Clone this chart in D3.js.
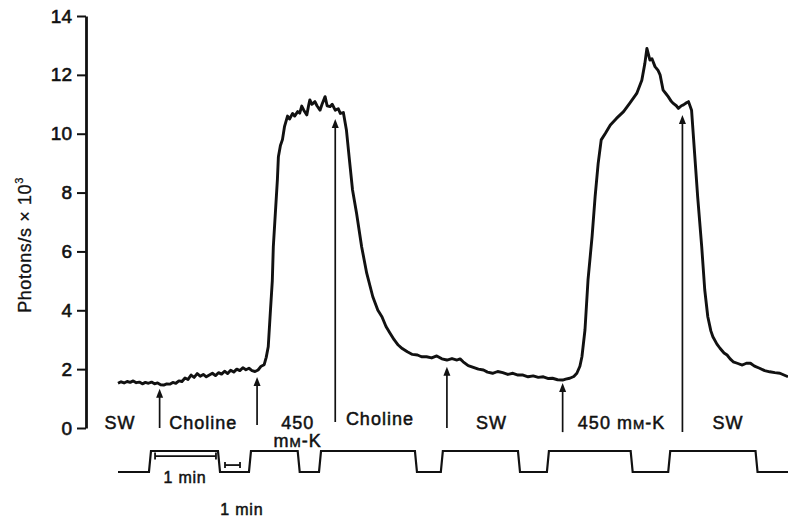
<!DOCTYPE html>
<html>
<head>
<meta charset="utf-8">
<script src="https://cdn.jsdelivr.net/npm/d3@7"></script>
<style>
  html, body { margin: 0; padding: 0; background: #fff; }
  svg { display: block; }
  text { font-family: "Liberation Sans", Arial, Helvetica, sans-serif; fill: #111; }
</style>
</head>
<body>
<svg id="chart" width="788" height="517"></svg>
<script>
// Photon emission trace (photons/s × 10³) against time (s)
const timeSec = [0,3,6,9,12,15,18,21,24,27,30,33,36,39,42,45,48,51,54,57,60,63,66,69,72,75,78,81,84,87,90,93,96,99,102,105,108,111,114,117,120,123,126,129,132,135,138,141,144,
  146,148,150,152,153,155,157,158,160,162,164,167,169,172,174,177,179,181,183,186,188,189,191,194,196,199,201,204,206,209,211,214,217,219,222,
  225,228,231,235,240,245,251,256,260,264,268,272,276,280,285,290,295,299,304,309,314,319,324,329,334,337,340,345,350,355,360,364,369,374,379,384,389,394,399,404,409,414,419,424,428,433,438,441,445,449,452,
  455,457,460,463,467,470,473,476,480,485,491,498,504,511,516,519,521,524,526,529,532,534,537,540,542,545,547,550,552,555,557,560,562,
  565,568,571,575,578,581,584,586,590,593,597,600,603,606,610,615,619,623,627,632,637,642,647,652,656,660];
const photons = [1.52,1.57,1.53,1.58,1.55,1.6,1.54,1.56,1.5,1.55,1.52,1.56,1.5,1.53,1.47,1.46,1.5,1.49,1.55,1.52,1.6,1.58,1.7,1.65,1.8,1.72,1.85,1.76,1.82,1.74,1.8,1.86,1.78,1.88,1.83,1.93,1.85,1.96,1.9,2.0,1.95,2.05,1.98,2.03,1.95,1.92,1.97,2.1,2.15,
  2.4,2.76,3.9,5.0,6.16,7.3,8.43,9.22,9.6,9.8,10.24,10.6,10.5,10.69,10.6,10.75,10.7,10.94,10.8,10.64,11.0,11.15,11.0,11.09,10.95,10.8,11.0,11.26,10.95,10.92,11.0,10.8,10.85,10.69,10.72,
  10.13,9.1,8.1,7.3,6.16,5.26,4.46,4.0,3.78,3.45,3.22,3.0,2.82,2.7,2.59,2.5,2.48,2.42,2.42,2.38,2.45,2.35,2.31,2.36,2.31,2.35,2.25,2.12,2.06,2.0,1.97,1.9,1.86,1.92,1.88,1.82,1.86,1.8,1.8,1.74,1.77,1.72,1.74,1.68,1.69,1.64,1.63,1.66,1.69,1.75,1.86,
  2.1,2.42,3.33,5.03,6.5,7.86,8.99,9.79,10.01,10.3,10.52,10.75,11.03,11.37,11.82,12.39,12.9,12.5,12.55,12.28,12.15,12.0,11.48,11.35,11.26,11.1,11.03,10.95,10.86,10.95,10.98,11.05,11.09,
  10.8,9.33,7.86,6.16,4.69,3.78,3.3,3.1,2.85,2.71,2.55,2.48,2.35,2.25,2.2,2.14,2.2,2.2,2.1,2.03,1.95,1.91,1.88,1.86,1.8,1.74];

// Y axis ticks
const yTicks = [0, 2, 4, 6, 8, 10, 12, 14];

// Solution changes: arrow times (s), tip and base values
const arrowTimes = [41, 137, 214, 324, 438, 556];
const arrowTips  = [1.33, 1.73, 10.5, 2.08, 1.53, 10.64];
const arrowBases = [0, 0.1, 0.2, 0, -0.14, -0.14];

// Solution labels under the trace
const solutionLabels = ["SW", "Choline", "450", "Choline", "SW", "450 mM-K", "SW"];
const solutionTimes  = [2, 84, 177, 258, 368, 496, 601];

// Perfusion marker trace: edge times (s), starting low and alternating
const pulseEdges = [31.5, 99.5, 130, 178, 199, 293.5, 319, 395, 423.5, 506, 543, 629];

// Time-scale bars: start (s) and length (s)
const barStarts  = [36.5, 105.4];
const barLengths = [60, 14.8];
const barLabels  = ["1 min", "1 min"];

const svg = d3.select("#chart");

const x = d3.scaleLinear().domain([0, 660]).range([118, 788]);
const y = d3.scaleLinear().domain([0, 14]).range([428, 16]);
const yPulse = d3.scaleLinear().domain([0, 1]).range([472, 451]);

// Y axis
const yAxis = d3.axisLeft(y).tickValues(yTicks).tickSize(9).tickSizeOuter(0).tickPadding(5)
  .tickFormat(d3.format("d"));
const ag = svg.append("g").attr("transform", "translate(86,0)").call(yAxis);
ag.select(".domain").attr("stroke", "#111").attr("stroke-width", 2.8);
ag.selectAll(".tick line").attr("stroke", "#111").attr("stroke-width", 2);
ag.selectAll(".tick text").attr("font-size", 19).attr("font-family", "Liberation Sans, Arial, sans-serif")
  .attr("fill", "#111").attr("stroke", "#111").attr("stroke-width", 0.6);

// Y axis title
const yt = svg.append("text")
  .attr("transform", "translate(31,245) rotate(-90)")
  .attr("text-anchor", "middle")
  .attr("font-size", 18)
  .attr("letter-spacing", 0.6)
  .attr("stroke", "#111").attr("stroke-width", 0.3);
yt.append("tspan").text("Photons/s \u00d7 10");
yt.append("tspan").attr("font-size", 11).attr("dy", -8).text("3");

// Emission trace
const series = timeSec.map((t, i) => [t, photons[i]]);
svg.append("path")
  .datum(series)
  .attr("fill", "none")
  .attr("stroke", "#111")
  .attr("stroke-width", 2.9)
  .attr("stroke-linejoin", "round")
  .attr("d", d3.line().x(d => x(d[0])).y(d => y(d[1])));

// Arrows
const arrowG = svg.append("g");
arrowTimes.forEach((t, i) => {
  const ax = x(t), tipY = y(arrowTips[i]), baseY = y(arrowBases[i]);
  arrowG.append("line")
    .attr("x1", ax).attr("x2", ax).attr("y1", tipY + 6).attr("y2", baseY)
    .attr("stroke", "#111").attr("stroke-width", 1.7);
  arrowG.append("path")
    .attr("d", `M${ax},${tipY} L${ax - 3.5},${tipY + 9} L${ax + 3.5},${tipY + 9} Z`)
    .attr("fill", "#111");
});

// Solution labels
const labG = svg.append("g").attr("font-size", 18).attr("letter-spacing", 1).attr("text-anchor", "middle");
solutionLabels.forEach((s, i) => {
  const base = (i === 3) ? 425 : 429;
  const t = labG.append("text").attr("x", x(solutionTimes[i])).attr("y", base)
    .attr("stroke", "#111").attr("stroke-width", 0.5);
  if (s === "450 mM-K") {
    t.append("tspan").text("450 m");
    t.append("tspan").attr("font-size", 13.5).text("M");
    t.append("tspan").text("-K");
  } else {
    t.text(s);
  }
});
// second line under the first "450"
const sub = labG.append("text").attr("x", x(solutionTimes[2])).attr("y", 447)
  .attr("stroke", "#111").attr("stroke-width", 0.5);
sub.append("tspan").text("m");
sub.append("tspan").attr("font-size", 13.5).text("M");
sub.append("tspan").text("-K");

// Perfusion marker trace
const ramp = 2;
let pts = [[0, 0]];
let level = 0;
pulseEdges.forEach(t => {
  pts.push([t - ramp / 2, level]);
  level = 1 - level;
  pts.push([t + ramp / 2, level]);
});
pts.push([660, level]);
svg.append("path")
  .datum(pts)
  .attr("fill", "none")
  .attr("stroke", "#111")
  .attr("stroke-width", 2.2)
  .attr("d", d3.line().x(d => x(d[0])).y(d => yPulse(d[1])));

// Time-scale bars
const barY = [0.76, 0.33];
const barG = svg.append("g").attr("stroke", "#111").attr("stroke-width", 1.8);
barStarts.forEach((s, i) => {
  const x1 = x(s), x2 = x(s + barLengths[i]), by = yPulse(barY[i]);
  const h = i === 0 ? 3.5 : 3;
  barG.append("line").attr("x1", x1).attr("x2", x2).attr("y1", by).attr("y2", by);
  barG.append("line").attr("x1", x1).attr("x2", x1).attr("y1", by - h).attr("y2", by + h);
  barG.append("line").attr("x1", x2).attr("x2", x2).attr("y1", by - h).attr("y2", by + h);
});
svg.append("text").attr("x", x(66)).attr("y", 483).attr("text-anchor", "middle")
  .attr("font-size", 16).attr("letter-spacing", 0.8).attr("stroke", "#111").attr("stroke-width", 0.5)
  .text(barLabels[0]);
svg.append("text").attr("x", x(122)).attr("y", 515).attr("text-anchor", "middle")
  .attr("font-size", 16).attr("letter-spacing", 0.8).attr("stroke", "#111").attr("stroke-width", 0.5)
  .text(barLabels[1]);
</script>
</body>
</html>
